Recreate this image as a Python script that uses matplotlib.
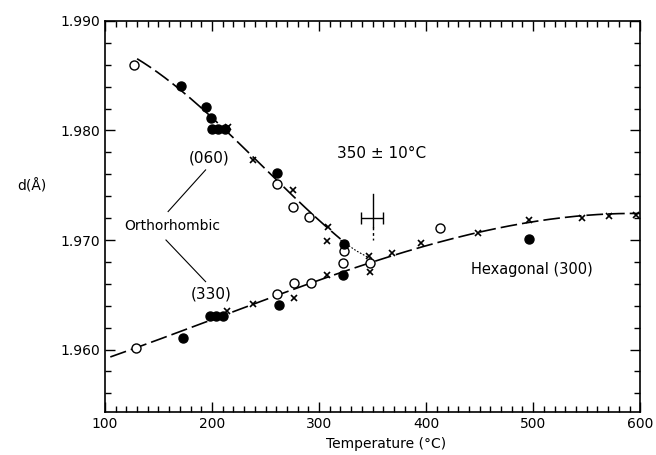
import matplotlib.pyplot as plt
import numpy as np
from matplotlib.ticker import MultipleLocator, FormatStrFormatter

plt.rcParams['font.family'] = ['DejaVu Sans']

# data
filled_t = [171, 194, 199, 200, 206, 212, 261, 323, 173, 198, 204, 210, 263, 322, 496]
filled_d = [1.9841, 1.9821, 1.9811, 1.9801, 1.9801, 1.9801, 1.9761, 1.9696,
            1.9611, 1.9631, 1.9631, 1.9631, 1.9641, 1.9668, 1.9701]
open_t = [127, 261, 276, 291, 323, 129, 261, 277, 292, 322, 348, 413]
open_d = [1.9860, 1.9751, 1.9730, 1.9721, 1.9690, 1.9601, 1.9651, 1.9661,
          1.9661, 1.9679, 1.9679, 1.9711]
cross_t = [215, 238, 276, 308, 307, 347, 214, 238, 277, 307, 348, 368, 395,
           448, 496, 546, 571, 596]
cross_d = [1.9803, 1.9773, 1.9746, 1.9712, 1.9699, 1.9685, 1.9635, 1.9642,
           1.9647, 1.9668, 1.9671, 1.9688, 1.9697, 1.9706, 1.9718, 1.9720,
           1.9722, 1.9723]

# hand-drawn curves
upper_t = [130, 170, 200, 240, 262, 280, 300, 320]
upper_d = [1.9864, 1.9843, 1.9807, 1.9772, 1.9755, 1.9738, 1.9718, 1.9700]
upper_dot_t = [320, 335, 348]
upper_dot_d = [1.9700, 1.9690, 1.9683]
lower_t = [105, 130, 170, 200, 240, 280, 320, 350, 400, 450, 500, 550, 600]
lower_d = [1.9594, 1.9602, 1.9614, 1.9628, 1.9643, 1.9657, 1.9670, 1.9679,
           1.9695, 1.9708, 1.9717, 1.9721, 1.9725]

fig = plt.figure(figsize=(6.56, 4.55), dpi=100)
ax = fig.add_axes([0.160, 0.0945, 0.816, 0.8595])

# curves (smooth through the read points)
def smooth(t, d):
    tt = np.linspace(t[0], t[-1], 200)
    c = np.polyfit(t, d, 3)
    return tt, np.polyval(c, tt)

ut, ud = smooth(upper_t, upper_d)
ax.plot(ut, ud, color='k', lw=1.2, dashes=(10, 3))
ax.plot(upper_dot_t, upper_dot_d, color='k', lw=0.8, ls=(0, (1.5, 1.5)))
lt, ld = smooth(lower_t, lower_d)
ax.plot(lt, ld, color='k', lw=1.2, dashes=(10, 3))

ax.plot(open_t, open_d, 'o', ms=6.5, mfc='white', mec='k', mew=1.0)
ax.plot(filled_t, filled_d, 'o', ms=6.5, mfc='k', mec='k')
ax.plot(cross_t, cross_d, 'x', ms=5, color='k', mew=1.2)

# 350 +/- 10 C marker
ax.errorbar([350], [1.9720], xerr=[[11], [10]], fmt='none', ecolor='k',
            elinewidth=1.0, capsize=4)
ax.plot([350, 350], [1.9742, 1.9712], color='k', lw=1.0)
ax.plot([350, 350], [1.9712, 1.9700], color='k', lw=1.0, ls=(0, (2, 2)))
ax.text(358, 1.9779, '350 ± 10°C', ha='center', va='center', fontsize=11)

# labels
ax.text(197, 1.9775, '(060)', ha='center', va='center', fontsize=11)
ax.text(199, 1.9651, '(330)', ha='center', va='center', fontsize=11)
ax.text(163, 1.9713, 'Orthorhombic', ha='center', va='center', fontsize=10)
ax.plot([194, 159], [1.9764, 1.9726], color='k', lw=0.8)
ax.plot([157, 194], [1.9700, 1.9662], color='k', lw=0.8)
ax.text(499, 1.9673, 'Hexagonal (300)', ha='center', va='center', fontsize=10.5)

ax.set_xlim(100, 600)
ax.set_ylim(1.9543, 1.990)
ax.xaxis.set_major_locator(MultipleLocator(100))
ax.xaxis.set_minor_locator(MultipleLocator(10))
ax.yaxis.set_major_locator(MultipleLocator(0.010))
ax.yaxis.set_minor_locator(MultipleLocator(0.002))
ax.yaxis.set_major_formatter(FormatStrFormatter('%.3f'))
ax.tick_params(which='both', direction='in', top=True, right=True, labelsize=10)
ax.tick_params(which='major', length=7, width=1)
ax.tick_params(which='minor', length=4, width=1)
for s in ax.spines.values():
    s.set_linewidth(1.2)

ax.set_xlabel('Temperature (°C)', fontsize=10, labelpad=4)
ax.xaxis.set_label_coords(0.525, -0.065)
fig.text(0.027, 0.591, 'd(Å)', ha='left', va='center', fontsize=10)

fig.savefig('out.png', dpi=100)
